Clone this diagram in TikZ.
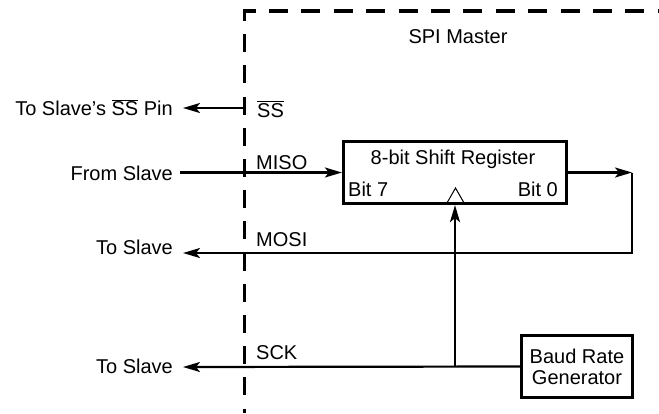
\documentclass[tikz,border=0pt]{standalone}
\usepackage{fontspec}
\setmainfont{Liberation Sans}
\usetikzlibrary{arrows.meta}
\begin{document}
\begin{tikzpicture}[x=1pt,y=-1pt,
  txt/.style={inner sep=0pt, font=\fontsize{20}{21}\selectfont},
  wire/.style={line width=2.2pt},
  arr/.style={wire, -{Stealth[length=17pt,width=10pt,inset=4pt]}},
  blk/.style={draw, line width=3.2pt, inner sep=0pt, font=\fontsize{20}{21}\selectfont},
  border/.style={line width=3.2pt}
]
\useasboundingbox (0,0) rectangle (659,413);
% dashed boundary of the SPI master
\draw[border, dash pattern=on 19pt off 13.4pt, dash phase=6.5pt] (243,11) -- (659,11);
\draw[border, dash pattern=on 18pt off 13.2pt, dash phase=8pt] (244.5,11) -- (244.5,413);
\node[txt, anchor=base] (spi) at (458,43) {SPI Master};
% shift register
\node[blk, minimum width=223pt, minimum height=62pt] (sr) at (455,172.5) {};
\node[txt, anchor=base] (srt) at (453,164) {8-bit Shift Register};
\node[txt, anchor=base west] (b7) at (348,196) {Bit 7};
\node[txt, anchor=base east] (b0) at (558,196) {Bit 0};
\draw[line width=1pt] (447.5,202) -- (455.5,188) -- (463.5,202);
% baud rate generator
\node[blk, align=center, minimum width=111pt, minimum height=62pt] (baud) at (577,366.5) {Baud Rate\\Generator};
% coordinates
\coordinate (ssR) at (244.5,108);
\coordinate (ssL) at (183,108);
\coordinate (misoL) at (180,172.5);
\coordinate (outR) at (632,172.5);
\coordinate (mosiR) at (632,253);
\coordinate (mosiL) at (183,253);
\coordinate (sckL) at (183,367);
% connectors
\draw[arr] (ssR) -- (ssL);
\draw[arr] (misoL) -- (sr.west);
\draw[arr] (sr.east) -- (outR);
\draw[arr] (outR) -- (mosiR) -- (mosiL);
\draw[arr] (baud.west) -- (sckL);
\draw[arr] (sr.south |- baud.west) -- (sr.south);
% labels
\node[txt, anchor=base east] (tss) at (173,115.5) {To Slave's $\overline{\mbox{SS}}$ Pin};
\node[txt, anchor=base east] (fs) at (173,180) {From Slave};
\node[txt, anchor=base east] (ts1) at (173,254) {To Slave};
\node[txt, anchor=base east] (ts2) at (173,373.5) {To Slave};
\node[txt, anchor=base west] (lss) at (257,117) {$\overline{\mbox{SS}}$};
\node[txt, anchor=base west] (lmiso) at (256,169) {MISO};
\node[txt, anchor=base west] (lmosi) at (256,246) {MOSI};
\node[txt, anchor=base west] (lsck) at (256,359) {SCK};
\end{tikzpicture}
\end{document}
